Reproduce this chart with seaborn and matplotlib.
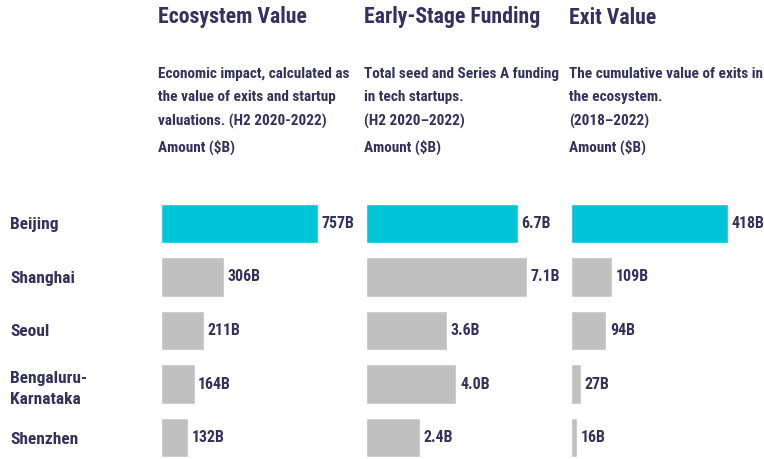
import matplotlib
matplotlib.use("Agg")
import matplotlib.pyplot as plt
import seaborn as sns
import pandas as pd

cities = ["Beijing", "Shanghai", "Seoul", "Bengaluru-\nKarnataka", "Shenzhen"]
ecosystem_value = [757, 306, 211, 164, 132]
early_stage_funding = [6.7, 7.1, 3.6, 4.0, 2.4]
exit_value = [418, 109, 94, 27, 16]

titles = ["Ecosystem Value", "Early-Stage Funding", "Exit Value"]
subtitles = [
    "Economic impact, calculated as\nthe value of exits and startup\nvaluations. (H2 2020-2022)\nAmount ($B)",
    "Total seed and Series A funding\nin tech startups.\n(H2 2020\u20132022)\nAmount ($B)",
    "The cumulative value of exits in\nthe ecosystem.\n(2018\u20132022)\nAmount ($B)",
]
label_formats = ["{:.0f}B", "{:.1f}B", "{:.0f}B"]

HIGHLIGHT = "#00C4D8"
OTHER = "#C0C0C0"
TEXT = "#33315F"

sns.set_theme(style="white")
plt.rcParams["font.family"] = ["Roboto Condensed", "DejaVu Sans"]

W, H = 764, 459
fig = plt.figure(figsize=(W / 100, H / 100), dpi=100)

# panel geometry in pixels: left edge of bars and pixels per unit
panel_left = [160.5, 365.7, 571.0]
px_per_unit = [157.0 / 757, 152.0 / 6.7, 157.0 / 418]
panel_width = 185.0

row_top, row_bottom = 190.0, 459.0
first_center, pitch = 223.3, 53.6
y_top = -(first_center - row_top) / pitch
y_bottom = (row_bottom - first_center) / pitch

series = [ecosystem_value, early_stage_funding, exit_value]
palette = [HIGHLIGHT] + [OTHER] * (len(cities) - 1)

for i, values in enumerate(series):
    df = pd.DataFrame({"city": cities, "value": values})
    ax = fig.add_axes([
        panel_left[i] / W,
        (H - row_bottom) / H,
        panel_width / W,
        (row_bottom - row_top) / H,
    ])
    sns.barplot(data=df, y="city", x="value", hue="city", palette=palette,
                orient="h", width=0.735, legend=False, ax=ax, saturation=1)
    ax.set_xlim(0, panel_width / px_per_unit[i])
    ax.set_ylim(y_bottom, y_top)
    for c in ax.containers:
        ax.bar_label(c, labels=[label_formats[i].format(v) for v in c.datavalues],
                     padding=2.6, fontsize=11.4, fontweight="bold", color=TEXT)
    ax.set_xlabel("")
    ax.set_ylabel("")
    ax.set_xticks([])
    sns.despine(ax=ax, left=True, bottom=True)
    if i == 0:
        ax.tick_params(axis="y", length=0, pad=(panel_left[0] - 10) * 0.72)
        for t in ax.get_yticklabels():
            t.set_ha("left")
            t.set_fontsize(12.5)
            t.set_fontweight("bold")
            t.set_color(TEXT)
            t.set_linespacing(1.55)
    else:
        ax.set_yticks([])

    x0 = (panel_left[i] - 2) / W
    fig.text(x0, 1 - 23.5 / H, titles[i], fontsize=15.7, fontweight="bold",
             color=TEXT, ha="left", va="baseline")
    fig.text(x0, 1 - 67 / H, subtitles[i], fontsize=11, fontweight="semibold",
             color=TEXT, ha="left", va="top", linespacing=1.85)

fig.savefig("out.png", dpi=100)
